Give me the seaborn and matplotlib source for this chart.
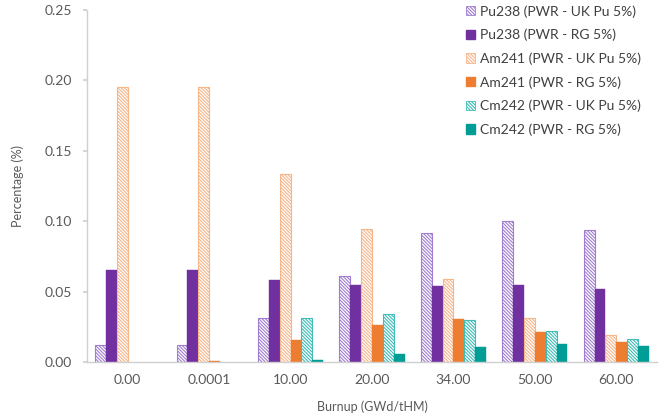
import matplotlib
matplotlib.use("Agg")
import matplotlib.pyplot as plt
from matplotlib.patches import Patch
import seaborn as sns
import pandas as pd

# Burnup steps (category labels on the x axis)
burnup = ["0.00", "0.0001", "10.00", "20.00", "34.00", "50.00", "60.00"]

# Isotope percentages for each fuel case
pu238_uk = [0.012, 0.012, 0.031, 0.0613, 0.0914, 0.1001, 0.0937]
pu238_rg = [0.065, 0.065, 0.058, 0.0545, 0.054, 0.0545, 0.052]
am241_uk = [0.195, 0.195, 0.1335, 0.0947, 0.059, 0.0312, 0.0192]
am241_rg = [0.0, 0.0004, 0.0154, 0.0263, 0.0303, 0.0215, 0.0142]
cm242_uk = [0.0, 0.0, 0.031, 0.0341, 0.0298, 0.0217, 0.0163]
cm242_rg = [0.0, 0.0, 0.0015, 0.0057, 0.0107, 0.0128, 0.0111]

series_names = [
    "Pu238 (PWR - UK Pu 5%)",
    "Pu238 (PWR - RG 5%)",
    "Am241 (PWR - UK Pu 5%)",
    "Am241 (PWR - RG 5%)",
    "Cm242 (PWR - UK Pu 5%)",
    "Cm242 (PWR - RG 5%)",
]
series_values = [pu238_uk, pu238_rg, am241_uk, am241_rg, cm242_uk, cm242_rg]

colors = ["#a07dd0", "#7030a0", "#f7b58a", "#ed7d31", "#3fbdb6", "#009c96"]
hatched = [True, False, True, False, True, False]
HATCH = "\\" * 10

rows = []
for name, vals in zip(series_names, series_values):
    for b, v in zip(burnup, vals):
        rows.append({"Burnup": b, "Series": name, "Value": v})
df = pd.DataFrame(rows)

sns.set_theme(style="white")
plt.rcParams["font.family"] = ["Lato", "DejaVu Sans"]
plt.rcParams["hatch.linewidth"] = 0.8

fig = plt.figure(figsize=(6.61, 4.13), dpi=100)
ax = fig.add_axes([0.1316, 0.1235, 0.8624, 0.8523])

sns.barplot(data=df, x="Burnup", y="Value", hue="Series", order=burnup,
            hue_order=series_names, palette=colors, width=0.8, gap=0.0,
            saturation=1.0, legend=False, ax=ax)

# Style each bar: hatched outlines for the UK Pu cases, solid fill for RG
n_cat = len(burnup)
for i, p in enumerate(ax.patches[: n_cat * len(series_names)]):
    s = i // n_cat
    if p.get_height() == 0:
        p.set_visible(False)
        continue
    if hatched[s]:
        p.set_facecolor("white")
        p.set_edgecolor(colors[s])
        p.set_hatch(HATCH)
        p.set_linewidth(0.8)
    else:
        p.set_facecolor(colors[s])
        p.set_edgecolor(colors[s])
        p.set_linewidth(0.3)

ax.set_ylim(0, 0.25)
ax.set_yticks([0, 0.05, 0.10, 0.15, 0.20, 0.25])
ax.set_yticklabels(["0.00", "0.05", "0.10", "0.15", "0.20", "0.25"])
ax.set_xlim(-0.5, n_cat - 0.5)

for side in ["top", "right"]:
    ax.spines[side].set_visible(False)
for side in ["left", "bottom"]:
    ax.spines[side].set_color("#d0d0d0")
    ax.spines[side].set_linewidth(1.0)

ax.tick_params(axis="y", which="both", left=True, length=3, color="#d0d0d0",
               labelsize=10, labelcolor="#595959", pad=8)
ax.tick_params(axis="x", which="both", bottom=False, labelsize=10,
               labelcolor="#595959", pad=3)

ax.set_xlabel("Burnup (GWd/tHM)", fontsize=9, color="#595959")
ax.set_ylabel("Percentage (%)", fontsize=9, color="#595959")
ax.xaxis.set_label_coords(0.5, -0.108)
ax.yaxis.set_label_coords(-0.11, 0.5)

handles = []
for c, h in zip(colors, hatched):
    if h:
        handles.append(Patch(facecolor="white", edgecolor=c, hatch=HATCH, linewidth=0.6))
    else:
        handles.append(Patch(facecolor=c, edgecolor=c))

fig.legend(handles=handles, labels=series_names, loc="upper left",
           bbox_to_anchor=(466 / 661, 1 - 5 / 413), frameon=False,
           fontsize=10, labelcolor="#404040", handlelength=0.65,
           handleheight=0.65, handletextpad=0.35, labelspacing=0.8,
           borderaxespad=0.0, borderpad=0.0)

fig.savefig("out.png", dpi=100)
